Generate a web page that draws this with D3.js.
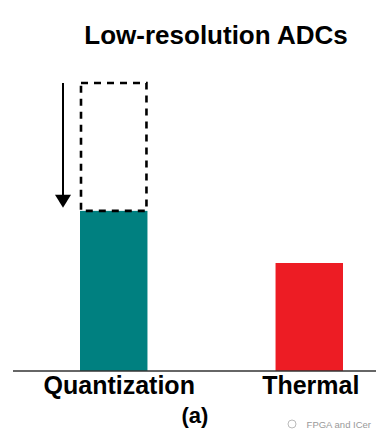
<!DOCTYPE html>
<html>
<head>
<meta charset="utf-8">
<script src="https://cdn.jsdelivr.net/npm/d3@7"></script>
<style>
  body { margin: 0; background: #fff; }
  svg { display: block; font-family: "Liberation Sans", Arial, sans-serif; }
</style>
</head>
<body>
<svg id="plot1" style="width:387px;height:441px"></svg>
<script>
// chart values
var categories = ["Quantization", "Thermal"];
var noiseAfter = [55.6, 37.5];    // filled bars
var noiseBefore = [100, null];    // dashed outline (before reduction)
var barColors = ["#008080", "#ed1c24"];
var title = "Low-resolution ADCs";
var caption = "(a)";

var svg = d3.select("#plot1");
var container = svg.append("g");

var xScale = d3.scaleBand()
    .domain(categories)
    .range([80, 343])
    .paddingInner(0.655)
    .paddingOuter(0);

var yScale = d3.scaleLinear()
    .domain([0, 100])
    .range([371, 83]);

// title
container.append("text")
    .attr("x", 216)
    .attr("y", 44)
    .attr("text-anchor", "middle")
    .attr("font-size", "26px")
    .attr("font-weight", "bold")
    .attr("fill", "#000")
    .text(title);

// filled bars
container.selectAll("rect.bar")
    .data(categories)
    .enter()
    .append("rect")
    .attr("class", "bar")
    .attr("x", function(d){ return xScale(d); })
    .attr("width", xScale.bandwidth())
    .attr("y", function(d, i){ return yScale(noiseAfter[i]); })
    .attr("height", function(d, i){ return yScale(0) - yScale(noiseAfter[i]); })
    .attr("fill", function(d, i){ return barColors[i]; });

// dashed outline of the original level
var before = categories.filter(function(d, i){ return noiseBefore[i] != null; });
container.selectAll("rect.before")
    .data(before)
    .enter()
    .append("rect")
    .attr("class", "before")
    .attr("x", function(d){ return xScale(d) + 1; })
    .attr("width", xScale.bandwidth() - 2)
    .attr("y", function(d){ return yScale(noiseBefore[categories.indexOf(d)]); })
    .attr("height", function(d){
        var i = categories.indexOf(d);
        return yScale(noiseAfter[i]) - yScale(noiseBefore[i]);
    })
    .attr("fill", "none")
    .attr("stroke", "#000")
    .attr("stroke-width", 2.6)
    .attr("stroke-dasharray", "7,6");

// downward arrow next to the dashed box
before.forEach(function(d){
    var i = categories.indexOf(d);
    var ax = xScale(d) - 17;
    var yTop = yScale(noiseBefore[i]);
    var yTip = yScale(noiseAfter[i]) - 3;
    container.append("line")
        .attr("x1", ax).attr("x2", ax)
        .attr("y1", yTop).attr("y2", yTip - 10)
        .attr("stroke", "#000")
        .attr("stroke-width", 2);
    container.append("path")
        .attr("d", "M" + (ax - 8) + "," + (yTip - 13) + "L" + (ax + 8) + "," + (yTip - 13) + "L" + ax + "," + yTip + "Z")
        .attr("fill", "#000");
});

// baseline
container.append("line")
    .attr("x1", 13).attr("x2", 376)
    .attr("y1", yScale(0)).attr("y2", yScale(0))
    .attr("stroke", "#333")
    .attr("stroke-width", 1.6);

// category labels
var labelShift = [5.5, 1.5];
container.selectAll("text.cat")
    .data(categories)
    .enter()
    .append("text")
    .attr("class", "cat")
    .attr("x", function(d, i){ return xScale(d) + xScale.bandwidth() / 2 + labelShift[i]; })
    .attr("y", 394)
    .attr("text-anchor", "middle")
    .attr("font-size", "25px")
    .attr("font-weight", "bold")
    .attr("fill", "#000")
    .text(function(d){ return d; });

// caption
container.append("text")
    .attr("x", 195)
    .attr("y", 423)
    .attr("text-anchor", "middle")
    .attr("font-size", "22px")
    .attr("font-weight", "bold")
    .attr("fill", "#000")
    .text(caption);

// watermark
var wm = container.append("g");
wm.append("circle")
    .attr("cx", 292).attr("cy", 424).attr("r", 4)
    .attr("fill", "none").attr("stroke", "#bbb").attr("stroke-width", 1);
wm.append("text")
    .attr("x", 371)
    .attr("y", 428)
    .attr("text-anchor", "end")
    .attr("font-size", "9.5px")
    .attr("fill", "#999")
    .text("FPGA and ICer");
</script>
</body>
</html>
